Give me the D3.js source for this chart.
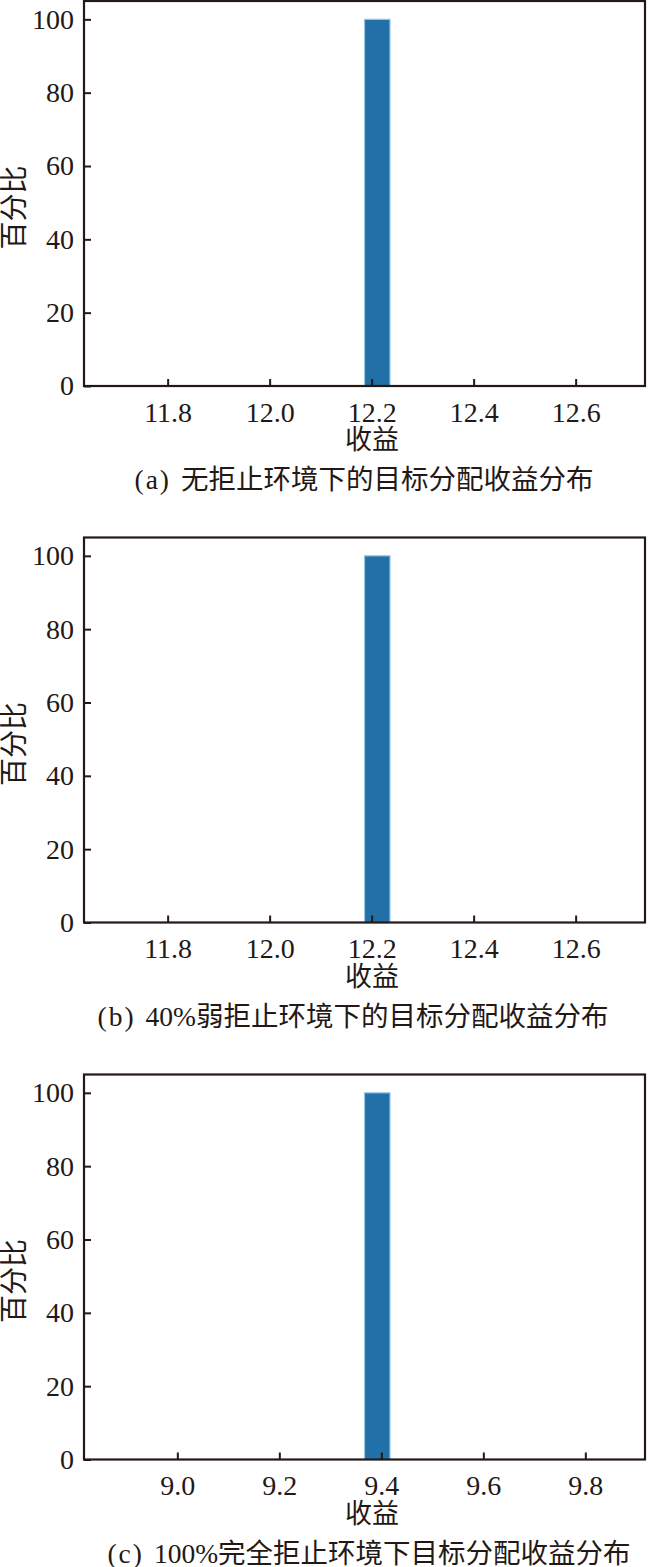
<!DOCTYPE html>
<html>
<head>
<meta charset="utf-8">
<script src="https://cdn.jsdelivr.net/npm/d3@7"></script>
<style>
  html, body { margin: 0; padding: 0; background: #fff; }
  svg { display: block; }
</style>
</head>
<body>
<script>
// ---- data ----
const captionPrefixes = ["(a)", "(b)", "(c)"];
const captions = [
  "无拒止环境下的目标分配收益分布",
  "40%弱拒止环境下的目标分配收益分布",
  "100%完全拒止环境下目标分配收益分布"
];
const binStarts = [12.186, 12.186, 9.367];   // left edge of the only non-empty bin
const binWidth = 0.05;
const percents = [100, 100, 100];
const xDomains = [[11.636, 12.736], [11.636, 12.736], [8.817, 9.917]];
const xTicksA = [11.8, 12.0, 12.2, 12.4, 12.6];
const xTicksB = [11.8, 12.0, 12.2, 12.4, 12.6];
const xTicksC = [9.0, 9.2, 9.4, 9.6, 9.8];
const xTickSets = [xTicksA, xTicksB, xTicksC];
const yTicks = [0, 20, 40, 60, 80, 100];
const yDomain = [0, 105];
const xLabel = "收益";
const yLabel = "百分比";

// ---- layout ----
const W = 650, H = 1567;
const ink = "#231815";
const serif = "'Liberation Serif','Times New Roman',serif";
const cjk = "'Liberation Serif','Noto Sans CJK SC',serif";
const panelTops = [1, 537.5, 1074.5];
const plotH = 385, left = 84, right = 645;
const captionX = [364, 353, 369];

const svg = d3.select("body").append("svg").attr("width", W).attr("height", H);

captions.forEach((cap, i) => {
  const top = panelTops[i], bottom = top + plotH;
  const x = d3.scaleLinear().domain(xDomains[i]).range([left, right]);
  const y = d3.scaleLinear().domain(yDomain).range([bottom, top]);
  const g = svg.append("g");

  // bar
  g.append("rect")
    .attr("x", x(binStarts[i]))
    .attr("y", y(percents[i]))
    .attr("width", x(binStarts[i] + binWidth) - x(binStarts[i]))
    .attr("height", y(0) - y(percents[i]))
    .attr("fill", "#2170a8")
    .attr("stroke", "#9cc3e0")
    .attr("stroke-width", 1.2);

  // x axis
  const xa = g.append("g").attr("transform", `translate(0,${bottom})`)
    .call(d3.axisBottom(x).tickValues(xTickSets[i]).tickFormat(d3.format(".1f"))
      .tickSizeInner(-7).tickSizeOuter(0).tickPadding(16));
  xa.select(".domain").remove();
  xa.selectAll("line").attr("stroke", ink).attr("stroke-width", 2);
  xa.selectAll("text").attr("fill", ink).style("font-family", serif).style("font-size", "28px");

  // y axis
  const ya = g.append("g").attr("transform", `translate(${left},0)`)
    .call(d3.axisLeft(y).tickValues(yTicks).tickSizeInner(-7).tickSizeOuter(0).tickPadding(10));
  ya.select(".domain").remove();
  ya.selectAll("line").attr("stroke", ink).attr("stroke-width", 2);
  ya.selectAll("text").attr("fill", ink).style("font-family", serif).style("font-size", "28px");

  // frame
  g.append("rect").attr("x", left).attr("y", top)
    .attr("width", right - left).attr("height", plotH)
    .attr("fill", "none").attr("stroke", ink).attr("stroke-width", 2.2);

  // x label
  g.append("text").attr("x", 372).attr("y", bottom + 54)
    .attr("text-anchor", "middle").attr("dominant-baseline", "central")
    .attr("fill", ink).style("font-family", cjk).style("font-size", "27px")
    .text(xLabel);

  // y label
  g.append("text")
    .attr("transform", `translate(14,${(top + bottom) / 2 + 14}) rotate(-90)`)
    .attr("text-anchor", "middle").attr("dominant-baseline", "central")
    .attr("fill", ink).style("font-family", cjk).style("font-size", "28px")
    .text(yLabel);

  // caption
  const t = g.append("text").attr("x", captionX[i]).attr("y", bottom + 93)
    .attr("text-anchor", "middle").attr("dominant-baseline", "central")
    .attr("fill", ink).style("font-family", cjk).style("font-size", "27.5px");
  t.append("tspan").attr("letter-spacing", "2px").text(captionPrefixes[i]);
  t.append("tspan").attr("dx", 10).text(cap);
});
</script>
</body>
</html>
